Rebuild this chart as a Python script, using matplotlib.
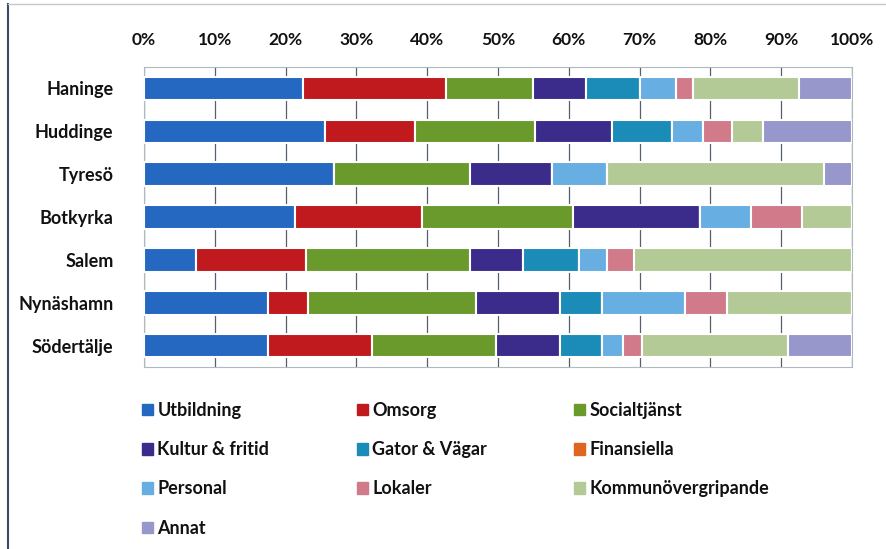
import matplotlib
matplotlib.use("Agg")
import matplotlib.pyplot as plt
from matplotlib.patches import Patch
from matplotlib.lines import Line2D
import numpy as np

plt.rcParams['font.family'] = ['Lato', 'DejaVu Sans']

municipalities = ["Haninge", "Huddinge", "Tyresö", "Botkyrka", "Salem", "Nynäshamn", "Södertälje"]
categories = ["Utbildning", "Omsorg", "Socialtjänst", "Kultur & fritid", "Gator & Vägar",
              "Finansiella", "Personal", "Lokaler", "Kommunövergripande", "Annat"]

utbildning   = [22.4, 25.5, 26.8, 21.3, 7.3, 17.5, 17.5]
omsorg       = [20.2, 12.8, 0.0, 17.9, 15.6, 5.7, 14.7]
socialtjanst = [12.3, 16.9, 19.2, 21.4, 23.1, 23.7, 17.5]
kultur       = [7.5, 10.9, 11.6, 18.0, 7.6, 11.9, 9.0]
gator        = [7.6, 8.5, 0.0, 0.0, 7.8, 5.9, 6.0]
finansiella  = [0.0, 0.0, 0.0, 0.0, 0.0, 0.0, 0.0]
personal     = [5.1, 4.3, 7.8, 7.1, 4.0, 11.7, 2.9]
lokaler      = [2.5, 4.2, 0.0, 7.2, 3.8, 6.0, 2.8]
kommun       = [14.9, 4.3, 30.7, 7.1, 30.8, 17.6, 20.5]
annat        = [7.5, 12.6, 3.9, 0.0, 0.0, 0.0, 9.1]

series = [utbildning, omsorg, socialtjanst, kultur, gator, finansiella,
          personal, lokaler, kommun, annat]
colors = ["#2468C2", "#C01A1E", "#6A9A2C", "#3B2C8C", "#1B8CB8",
          "#E0651E", "#67AEE2", "#D07A8A", "#B3CA96", "#9797CB"]

fig = plt.figure(figsize=(8.86, 5.49), dpi=100)
ax = fig.add_axes([144/886, 1-367/549, 708/886, 300/549])

y = np.arange(len(municipalities))
left = np.zeros(len(municipalities))
handles = []
for vals, col, name in zip(series, colors, categories):
    v = np.array(vals, dtype=float)
    ax.barh(y, v, left=left, height=0.55, color=col, edgecolor="white",
            linewidth=1.5, zorder=3)
    left += v
    handles.append(Patch(facecolor=col, edgecolor=col, label=name))

ax.set_xlim(0, 100)
ax.set_ylim(len(municipalities) - 0.5, -0.5)
ax.set_yticks(y)
ax.set_yticklabels(municipalities, fontsize=13, fontweight="bold", color="#111111")
ax.set_xticks(np.arange(0, 101, 10))
ax.set_xticklabels([f"{t}%" for t in range(0, 101, 10)], fontsize=12.5,
                   fontweight="bold", color="#111111")
ax.xaxis.tick_top()
ax.tick_params(length=0, pad=14)
ax.tick_params(axis='y', pad=22)
ax.grid(axis='x', color="#55606c", linewidth=0.9, zorder=0)
for s in ax.spines.values():
    s.set_color("#b0b8c0")
    s.set_linewidth(0.8)

order = [0, 3, 6, 9, 1, 4, 7, 2, 5, 8]
leg = fig.legend([handles[i] for i in order], [categories[i] for i in order],
                 ncol=3, loc="upper left", bbox_to_anchor=(142/886, 1-402/549),
                 frameon=False, fontsize=13, handlelength=0.6, handleheight=0.6,
                 handletextpad=0.25, columnspacing=4.85, labelspacing=1.23,
                 borderpad=0, borderaxespad=0)
for t in leg.get_texts():
    t.set_fontweight("bold")
    t.set_color("#111111")

fig.add_artist(Line2D([8/886, 8/886], [0, 1-4/549], transform=fig.transFigure,
                      color="#3a4a66", linewidth=1.5))
fig.add_artist(Line2D([8/886, 1], [1-4/549, 1-4/549], transform=fig.transFigure,
                      color="#c0c8d0", linewidth=1.0))

fig.savefig("out.png", dpi=100)
